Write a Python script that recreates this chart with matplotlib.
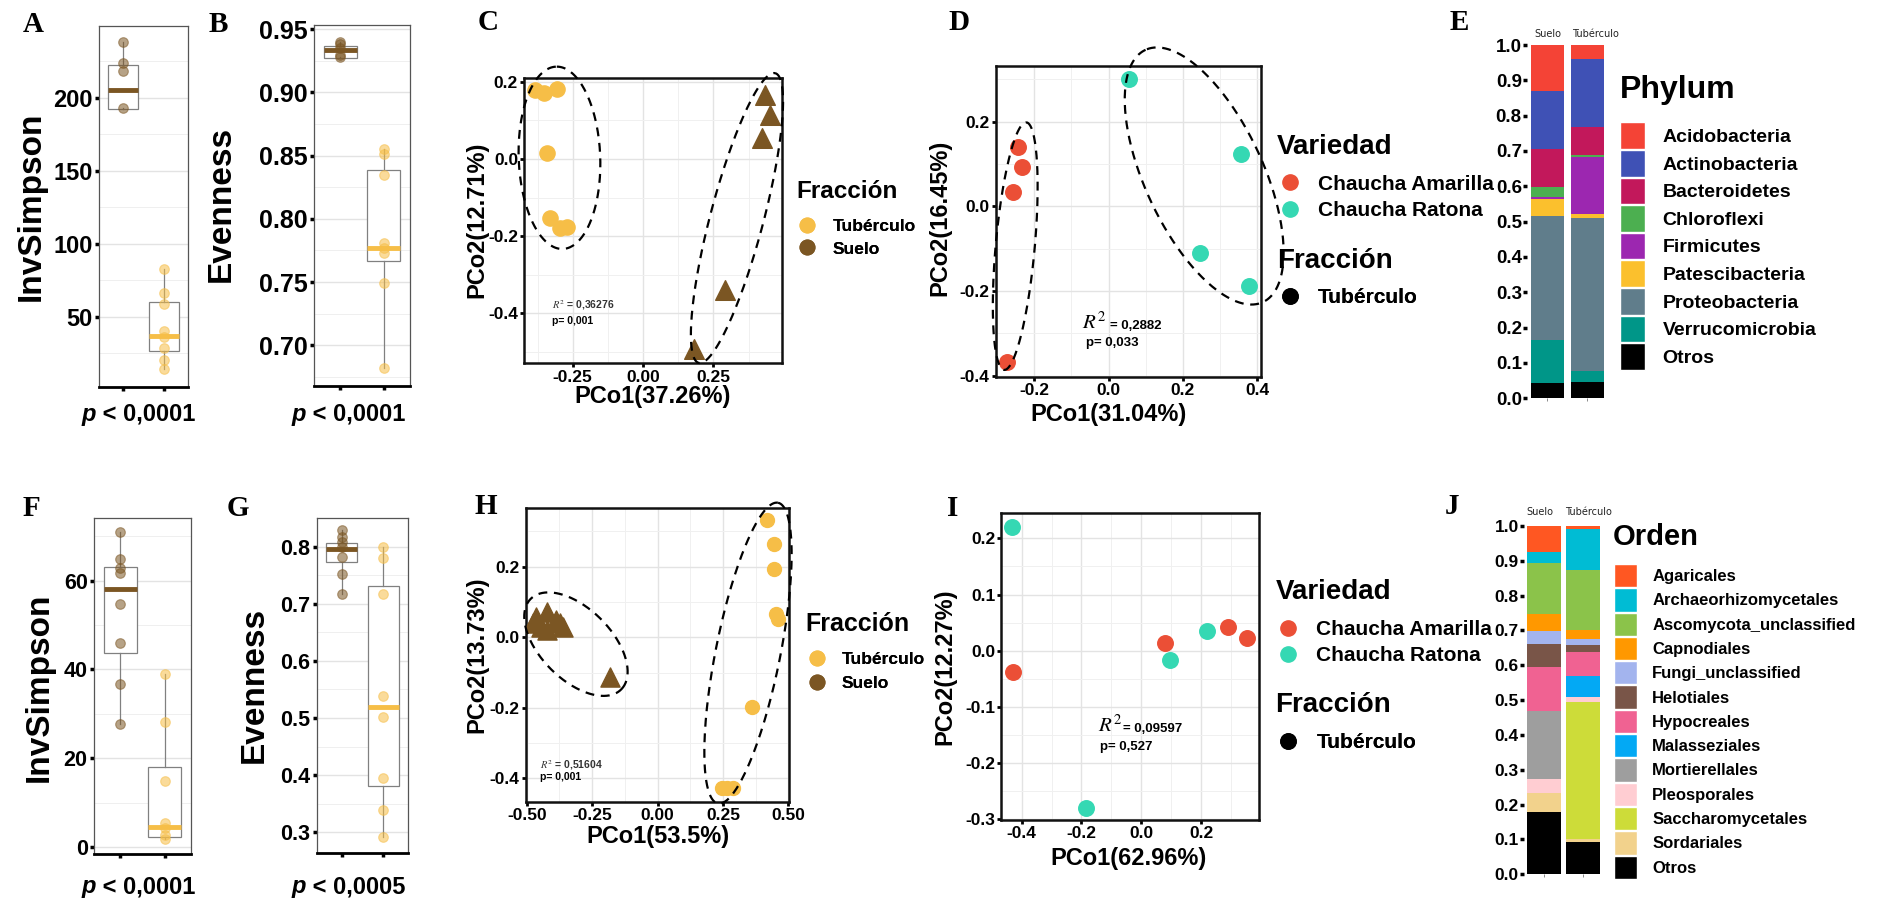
import numpy as np
import matplotlib
matplotlib.use('Agg')
import matplotlib.pyplot as plt
from matplotlib.lines import Line2D
from matplotlib.patches import Patch
from matplotlib.ticker import FormatStrFormatter

plt.rcParams['font.family'] = ['Liberation Sans', 'DejaVu Sans']
plt.rcParams['axes.unicode_minus'] = False
plt.rcParams['mathtext.fontset'] = 'stix'

# %% colores
col_suelo = '#7B5623'
col_tuber = '#F6BE47'
col_amarilla = '#EB4F36'
col_ratona = '#35D8B3'

# %% datos alfa-diversidad (bacterias: A, B ; hongos: F, G)
# estadisticas de caja: [whislo, q1, mediana, q3, whishi]
a_suelo = [238, 224, 218, 193]
a_tuber = [82.7, 66.2, 58.9, 40.4, 36.5, 28.6, 20.5, 14.2]
a_box_suelo = [193, 192.5, 205.5, 222, 238]
a_box_tuber = [14.2, 26.8, 37, 60.3, 82.7]

b_suelo = [0.940, 0.938, 0.935, 0.930, 0.928]
b_tuber = [0.855, 0.851, 0.835, 0.781, 0.777, 0.773, 0.749, 0.682]
b_box_suelo = [0.928, 0.927, 0.934, 0.937, 0.940]
b_box_tuber = [0.682, 0.767, 0.777, 0.8387, 0.855]

f_suelo = [70.9, 64.8, 62.9, 61.8, 54.7, 45.9, 36.7, 27.7]
f_tuber = [38.9, 28.1, 14.9, 5.4, 4.3, 2.8, 1.8]
f_box_suelo = [27.7, 43.8, 58.1, 63.1, 70.9]
f_box_tuber = [1.8, 2.4, 4.6, 18.0, 38.9]

g_suelo = [0.829, 0.8175, 0.809, 0.800, 0.7825, 0.753, 0.718]
g_tuber = [0.800, 0.780, 0.717, 0.539, 0.501, 0.3955, 0.338, 0.291]
g_box_suelo = [0.718, 0.773, 0.797, 0.807, 0.829]
g_box_tuber = [0.291, 0.381, 0.520, 0.731, 0.800]

# %% PCoA
c_tuber_x = [-0.383, -0.351, -0.306, -0.341, -0.330, -0.294, -0.270]
c_tuber_y = [0.179, 0.171, 0.181, 0.0155, -0.153, -0.178, -0.176]
c_suelo_x = [0.435, 0.453, 0.423, 0.293, 0.180]
c_suelo_y = [0.166, 0.115, 0.054, -0.338, -0.491]

d_amarilla_x = [-0.243, -0.232, -0.256, -0.274]
d_amarilla_y = [0.140, 0.092, 0.034, -0.367]
d_ratona_x = [0.055, 0.357, 0.245, 0.377]
d_ratona_y = [0.300, 0.124, -0.110, -0.187]

h_tuber_x = [0.420, 0.445, 0.445, 0.452, 0.459, 0.362, 0.245, 0.289, 0.265]
h_tuber_y = [0.331, 0.265, 0.194, 0.066, 0.052, -0.197, -0.426, -0.426, -0.426]
h_suelo_x = [-0.463, -0.421, -0.389, -0.361, -0.444, -0.424, -0.476, -0.373, -0.182]
h_suelo_y = [0.058, 0.072, 0.050, 0.030, 0.030, 0.021, 0.041, 0.041, -0.112]

i_amarilla_x = [0.081, 0.289, 0.355, -0.430]
i_amarilla_y = [0.013, 0.043, 0.023, -0.0386]
i_ratona_x = [-0.433, 0.095, 0.219, -0.186]
i_ratona_y = [0.221, -0.0166, 0.0356, -0.279]

# elipses: centro, semieje mayor, semieje menor (unidades de datos)
c_elipses = [((-0.297, 0.003), (-0.0095, 0.236), (0.145, 0.0)),
             ((0.334, -0.153), (0.136, 0.375), (0.0914, -0.0176))]
d_elipses = [((-0.251, -0.094), (0.0297, 0.292), (0.0524, -0.0035)),
             ((0.257, 0.0715), (-0.154, 0.299), (0.148, 0.0508))]
h_elipses = [((-0.312, -0.0196), (0.176, -0.126), (0.09, 0.075)),
             ((0.346, -0.045), (0.115, 0.426), (0.121, -0.018))]

# %% abundancia relativa
fracciones = ['Suelo', 'Tubérculo']
phylum = ['Acidobacteria', 'Actinobacteria', 'Bacteroidetes', 'Chloroflexi',
          'Firmicutes', 'Patescibacteria', 'Proteobacteria', 'Verrucomicrobia', 'Otros']
phylum_col = ['#F44336', '#3F51B5', '#C2185B', '#4CAF50', '#9C27B0',
              '#FBC02D', '#607D8B', '#009688', '#000000']
phylum_suelo = [0.129, 0.165, 0.109, 0.026, 0.007, 0.048, 0.351, 0.121, 0.044]
phylum_tuber = [0.040, 0.191, 0.080, 0.005, 0.163, 0.012, 0.432, 0.030, 0.047]

orden = ['Agaricales', 'Archaeorhizomycetales', 'Ascomycota_unclassified', 'Capnodiales',
         'Fungi_unclassified', 'Helotiales', 'Hypocreales', 'Malasseziales', 'Mortierellales',
         'Pleosporales', 'Saccharomycetales', 'Sordariales', 'Otros']
orden_col = ['#FF5722', '#00BCD4', '#8BC34A', '#FF9800', '#A3B4EE', '#795548', '#F06292',
             '#03A9F4', '#9E9E9E', '#FFCDD2', '#CDDC39', '#F2D28C', '#000000']
orden_suelo = [0.074, 0.030, 0.147, 0.050, 0.038, 0.065, 0.127, 0.0, 0.193, 0.043, 0.0, 0.054, 0.178]
orden_tuber = [0.008, 0.118, 0.173, 0.026, 0.017, 0.020, 0.069, 0.061, 0.0, 0.012, 0.396, 0.006, 0.094]

# %% figura
W, H = 1878, 901
fig = plt.figure(figsize=(W / 100, H / 100), dpi=100)


def px_axes(x0, y0, x1, y1):
    return fig.add_axes([x0 / W, 1 - y1 / H, (x1 - x0) / W, (y1 - y0) / H])


def ftext(x, y, s, **kw):
    return fig.text(x / W, 1 - y / H, s, **kw)


def draw_box(ax, suelo, tuber, box_suelo, box_tuber, ylim, yticks, minor, fmt, fs):
    for pos, pts, st, col in [(1, suelo, box_suelo, col_suelo), (2, tuber, box_tuber, col_tuber)]:
        lo, q1, med, q3, hi = st
        ax.bxp([dict(whislo=lo, q1=q1, med=med, q3=q3, whishi=hi, fliers=[])],
               positions=[pos], widths=0.75, showcaps=False, showfliers=False,
               patch_artist=True,
               boxprops=dict(facecolor='white', edgecolor='#808080', lw=0.9),
               whiskerprops=dict(color='#808080', lw=0.9),
               medianprops=dict(color=col, lw=3.5, solid_capstyle='butt'))
        ax.scatter(np.full(len(pts), pos), pts, s=48, color=col, alpha=0.55,
                   edgecolors=col, linewidths=0.8, zorder=4)
    ax.set_xlim(0.4, 2.6)
    ax.set_ylim(ylim)
    ax.set_xticks([1, 2])
    ax.set_xticklabels([])
    ax.set_yticks(yticks)
    ax.yaxis.set_major_formatter(FormatStrFormatter(fmt))
    ax.set_yticks(minor, minor=True)
    ax.grid(axis='y', which='major', color='#E3E3E3', lw=1.0, zorder=0)
    ax.grid(axis='y', which='minor', color='#EFEFEF', lw=0.7, zorder=0)
    ax.set_axisbelow(True)
    ax.tick_params(which='minor', length=0)
    ax.tick_params(which='major', length=3, width=2.5, color='black', pad=1.5)
    ax.tick_params(axis='y', labelsize=fs)
    for lab in ax.get_yticklabels():
        lab.set_fontweight('bold')
    for sp in ['top', 'right', 'left']:
        ax.spines[sp].set_color('#555555')
        ax.spines[sp].set_linewidth(0.9)
    ax.spines['bottom'].set_color('black')
    ax.spines['bottom'].set_linewidth(2)


def draw_frame(ax, xlim, ylim, xticks, yticks, xfmt, yfmt):
    ax.set_xlim(xlim)
    ax.set_ylim(ylim)
    ax.set_xticks(xticks)
    ax.set_yticks(yticks)
    dx = xticks[1] - xticks[0]
    dy = yticks[1] - yticks[0]
    mx = np.arange(xticks[0] - dx * 1.5, xlim[1], dx)
    my = np.arange(yticks[0] - dy * 1.5, ylim[1], dy)
    ax.set_xticks(mx[(mx > xlim[0]) & (mx < xlim[1])], minor=True)
    ax.set_yticks(my[(my > ylim[0]) & (my < ylim[1])], minor=True)
    ax.xaxis.set_major_formatter(FormatStrFormatter(xfmt))
    ax.yaxis.set_major_formatter(FormatStrFormatter(yfmt))
    ax.grid(which='major', color='#E3E3E3', lw=1.0)
    ax.grid(which='minor', color='#F0F0F0', lw=0.7)
    ax.set_axisbelow(True)
    ax.tick_params(which='minor', length=0)
    ax.tick_params(which='major', length=3, width=2, color='black', labelsize=12.5, pad=1.5)
    for lab in ax.get_xticklabels() + ax.get_yticklabels():
        lab.set_fontweight('bold')
    for sp in ax.spines.values():
        sp.set_linewidth(1.8)
        sp.set_color('#111111')


def draw_ellipse(ax, el):
    (cx, cy), (ax1, ay1), (bx1, by1) = el
    t = np.linspace(0, 2 * np.pi, 300)
    ax.plot(cx + ax1 * np.cos(t) + bx1 * np.sin(t), cy + ay1 * np.cos(t) + by1 * np.sin(t),
            color='black', lw=1.6, ls=(0, (4, 3)), clip_on=False, zorder=5)


def add_legend(ax, title, handles, fs, tfs, title_x, title_y, dot_x, text_x, first_y, step):
    # titulo aparte, luego las claves
    ftext(title_x, title_y, title, fontsize=tfs, fontweight='bold', va='center')
    fpx = fs * 100 / 72
    x0 = dot_x - 8
    leg = ax.legend(handles=handles, loc='upper left',
                    bbox_to_anchor=(x0 / W, 1 - (first_y - 0.5 * fpx) / H),
                    bbox_transform=fig.transFigure, frameon=False,
                    prop=dict(weight='bold', size=fs), borderpad=0, borderaxespad=0,
                    handlelength=16 / fpx, handletextpad=(text_x - x0 - 16) / fpx,
                    labelspacing=(step - fpx) / fpx)
    ax.add_artist(leg)
    return leg


def dot(col, lab, ms=10.5):
    return Line2D([], [], marker='o', ls='', color=col, markersize=ms, label=lab)


def draw_bars(ax, names, cols, suelo, tuber, width, strip_x, strip_y):
    x = np.arange(len(fracciones))
    vals = np.array([suelo, tuber]).T
    bottom = np.zeros(len(fracciones))
    for k in range(len(names) - 1, -1, -1):
        ax.bar(x, vals[k], width, bottom=bottom, color=cols[k], lw=0)
        bottom += vals[k]
    ax.set_xlim(-0.5, 1.5)
    ax.set_ylim(0, 1.0)
    ax.set_xticks(x)
    ax.set_xticklabels([])
    ax.set_yticks(np.arange(0, 1.01, 0.1))
    ax.yaxis.set_major_formatter(FormatStrFormatter('%.1f'))
    ax.tick_params(axis='y', length=3, width=2.5, color='black', pad=1)
    ax.tick_params(axis='x', length=2, width=0.6, color='#777777')
    for sp in ax.spines.values():
        sp.set_visible(False)
    for sx, lab in zip(strip_x, fracciones):
        ftext(sx, strip_y, lab, ha='center', va='center', fontsize=7,
              family='DejaVu Sans', color='#222222')


# ---------------- A ----------------
ax = px_axes(99, 26, 188, 387)
draw_box(ax, a_suelo, a_tuber, a_box_suelo, a_box_tuber, (2, 249),
         [50, 100, 150, 200], [25, 75, 125, 175, 225], '%d', 17)

# ---------------- B ----------------
ax = px_axes(314, 25, 410, 386)
draw_box(ax, b_suelo, b_tuber, b_box_suelo, b_box_tuber, (0.6678, 0.9534),
         [0.70, 0.75, 0.80, 0.85, 0.90, 0.95], [0.675, 0.725, 0.775, 0.825, 0.875, 0.925],
         '%.2f', 18)

# ---------------- F ----------------
ax = px_axes(94, 518.3, 191, 854.3)
draw_box(ax, f_suelo, f_tuber, f_box_suelo, f_box_tuber, (-1.6, 74.0),
         [0, 20, 40, 60], [10, 30, 50, 70], '%d', 15.5)

# ---------------- G ----------------
ax = px_axes(316.7, 517.7, 408.3, 852.7)
draw_box(ax, g_suelo, g_tuber, g_box_suelo, g_box_tuber, (0.264, 0.851),
         [0.3, 0.4, 0.5, 0.6, 0.7, 0.8], [0.35, 0.45, 0.55, 0.65, 0.75, 0.85], '%.1f', 15.5)

# ---------------- C ----------------
ax = px_axes(524.3, 78.3, 781.7, 363.3)
draw_frame(ax, (-0.422, 0.493), (-0.529, 0.2088), [-0.25, 0.0, 0.25],
           [-0.4, -0.2, 0.0, 0.2], '%.2f', '%.1f')
ax.scatter(c_tuber_x, c_tuber_y, s=120, color=col_tuber, zorder=3)
ax.scatter(c_suelo_x, c_suelo_y, s=200, marker='^', color=col_suelo, zorder=3)
for el in c_elipses:
    draw_ellipse(ax, el)
ax.text(0.106, 0.205, r'$R^2$ = 0,36276', transform=ax.transAxes, fontsize=7.5,
        fontweight='bold', va='center', color='#333333')
ax.text(0.106, 0.147, 'p= 0,001', transform=ax.transAxes, fontsize=7.5,
        fontweight='bold', va='center')
add_legend(ax, 'Fracción', [dot(col_tuber, 'Tubérculo'), dot(col_suelo, 'Suelo')],
           12.5, 17.5, 796.7, 191.7, 806.7, 832.7, 227.7, 24.6)

# ---------------- D ----------------
ax = px_axes(995.7, 66, 1261.1, 376.7)
draw_frame(ax, (-0.3035, 0.41), (-0.402, 0.331), [-0.2, 0.0, 0.2, 0.4],
           [-0.4, -0.2, 0.0, 0.2], '%.1f', '%.1f')
ax.scatter(d_amarilla_x, d_amarilla_y, s=125, color=col_amarilla, zorder=3)
ax.scatter(d_ratona_x, d_ratona_y, s=125, color=col_ratona, zorder=3)
for el in d_elipses:
    draw_ellipse(ax, el)
ax.text(0.327, 0.175, r'$R^2$', transform=ax.transAxes, fontsize=15, va='center')
ax.text(0.43, 0.163, '= 0,2882', transform=ax.transAxes, fontsize=9.5,
        fontweight='bold', va='center')
ax.text(0.34, 0.107, 'p= 0,033', transform=ax.transAxes, fontsize=9.5,
        fontweight='bold', va='center')
add_legend(ax, 'Variedad', [dot(col_amarilla, 'Chaucha Amarilla', 11),
                            dot(col_ratona, 'Chaucha Ratona', 11)],
           15, 20, 1277, 146.5, 1290, 1318, 185, 28.3)
add_legend(ax, 'Fracción', [dot('black', 'Tubérculo', 11)],
           15, 20, 1277, 261, 1290, 1318, 298.3, 28.3)

# ---------------- H ----------------
ax = px_axes(526, 507.7, 789.3, 801.7)
draw_frame(ax, (-0.503, 0.504), (-0.466, 0.367), [-0.5, -0.25, 0.0, 0.25, 0.5],
           [-0.4, -0.2, 0.0, 0.2], '%.2f', '%.1f')
ax.scatter(h_tuber_x, h_tuber_y, s=100, color=col_tuber, zorder=3)
ax.scatter(h_suelo_x, h_suelo_y, s=190, marker='^', color=col_suelo, zorder=3)
for el in h_elipses:
    draw_ellipse(ax, el)
ax.text(0.053, 0.125, r'$R^2$ = 0,51604', transform=ax.transAxes, fontsize=7.5,
        fontweight='bold', va='center', color='#333333')
ax.text(0.053, 0.085, 'p= 0,001', transform=ax.transAxes, fontsize=7.5,
        fontweight='bold', va='center')
add_legend(ax, 'Fracción', [dot(col_tuber, 'Tubérculo'), dot(col_suelo, 'Suelo')],
           12.5, 18, 805, 624, 816.7, 841.7, 660.7, 26)

# ---------------- I ----------------
ax = px_axes(1001.4, 513.3, 1259.3, 820)
draw_frame(ax, (-0.468, 0.395), (-0.301, 0.2445), [-0.4, -0.2, 0.0, 0.2],
           [-0.3, -0.2, -0.1, 0.0, 0.1, 0.2], '%.1f', '%.1f')
ax.scatter(i_amarilla_x, i_amarilla_y, s=125, color=col_amarilla, zorder=3)
ax.scatter(i_ratona_x, i_ratona_y, s=125, color=col_ratona, zorder=3)
ax.text(0.373, 0.31, r'$R^2$', transform=ax.transAxes, fontsize=15, va='center')
ax.text(0.47, 0.298, '= 0,09597', transform=ax.transAxes, fontsize=9.5,
        fontweight='bold', va='center')
ax.text(0.384, 0.239, 'p= 0,527', transform=ax.transAxes, fontsize=9.5,
        fontweight='bold', va='center')
add_legend(ax, 'Variedad', [dot(col_amarilla, 'Chaucha Amarilla', 11),
                            dot(col_ratona, 'Chaucha Ratona', 11)],
           15, 20, 1275.4, 591.7, 1287.9, 1316.4, 630.7, 27.6)
add_legend(ax, 'Fracción', [dot('black', 'Tubérculo', 11)],
           15, 20, 1275.4, 705, 1287.9, 1316.4, 743.3, 27.6)

# ---------------- E ----------------
ax = px_axes(1527.4, 45, 1607.4, 398.3)
draw_bars(ax, phylum, phylum_col, phylum_suelo, phylum_tuber, 0.84, [1547.5, 1595], 34)
ax.tick_params(axis='y', labelsize=13.5)
for lab in ax.get_yticklabels():
    lab.set_fontweight('bold')
ftext(1620, 90, 'Phylum', fontsize=23, fontweight='bold', va='center')
hp = [Patch(facecolor=c, edgecolor='white', lw=1, label=n) for n, c in zip(phylum, phylum_col)]
fig.legend(handles=hp, loc='upper left', bbox_to_anchor=(1620 / W, 1 - 122.3 / H),
           frameon=False, prop=dict(weight='bold', size=14), borderpad=0, borderaxespad=0,
           handlelength=25 / 19.44, handleheight=(26.6 / 19.44 - 0.245) / 0.65,
           labelspacing=1 / 19.44, handletextpad=17.6 / 19.44)

# ---------------- J ----------------
ax = px_axes(1524.4, 526, 1602.2, 874.3)
draw_bars(ax, orden, orden_col, orden_suelo, orden_tuber, 0.875, [1540.3, 1588.8], 511.7)
ax.tick_params(axis='y', labelsize=12.5)
for lab in ax.get_yticklabels():
    lab.set_fontweight('bold')
ftext(1613, 537, 'Orden', fontsize=21, fontweight='bold', va='center')
hp = [Patch(facecolor=c, edgecolor='white', lw=1, label=n) for n, c in zip(orden, orden_col)]
fig.legend(handles=hp, loc='upper left', bbox_to_anchor=(1614.3 / W, 1 - 564 / H),
           frameon=False, prop=dict(weight='bold', size=12), borderpad=0, borderaxespad=0,
           handlelength=22.4 / 16.67, handleheight=(23.3 / 16.67 - 0.245) / 0.65,
           labelspacing=1 / 16.67, handletextpad=15.6 / 16.67)

# ---------------- textos ----------------
for lab, x, y in [('A', 23, 24), ('B', 209, 24), ('C', 478, 22), ('D', 948, 22), ('E', 1450, 22),
                  ('F', 23, 508), ('G', 227, 508), ('H', 475, 507), ('I', 947, 508),
                  ('J', 1445, 507)]:
    ftext(x, y, lab, fontsize=21, fontweight='bold', family='Liberation Serif', va='center')

for s, x, y in [('InvSimpson', 31, 206), ('Evenness', 221, 204),
                ('InvSimpson', 39, 687), ('Evenness', 254, 685)]:
    ftext(x, y, s, fontsize=24, fontweight='bold', rotation=90, ha='center', va='center')

for s, x, y in [('PCo2(12.71%)', 477, 220), ('PCo2(16.45%)', 940, 218),
                ('PCo2(13.73%)', 477, 655), ('PCo2(12.27%)', 945, 667)]:
    ftext(x, y, s, fontsize=17, fontweight='bold', rotation=90, ha='center', va='center')

for s, x, y in [('PCo1(37.26%)', 653, 397), ('PCo1(31.04%)', 1109, 415),
                ('PCo1(53.5%)', 658, 837), ('PCo1(62.96%)', 1129, 858)]:
    ftext(x, y, s, fontsize=17, fontweight='bold', ha='center', va='center')

for s, x, y in [(' < 0,0001', 96, 414), (' < 0,0001', 306, 414),
                (' < 0,0001', 96, 887), (' < 0,0005', 306, 887)]:
    ftext(x, y, 'p', fontsize=17, fontweight='bold', style='italic', ha='right', va='center')
    ftext(x, y, s, fontsize=17, fontweight='bold', ha='left', va='center')

fig.savefig('out.png', dpi=100)
